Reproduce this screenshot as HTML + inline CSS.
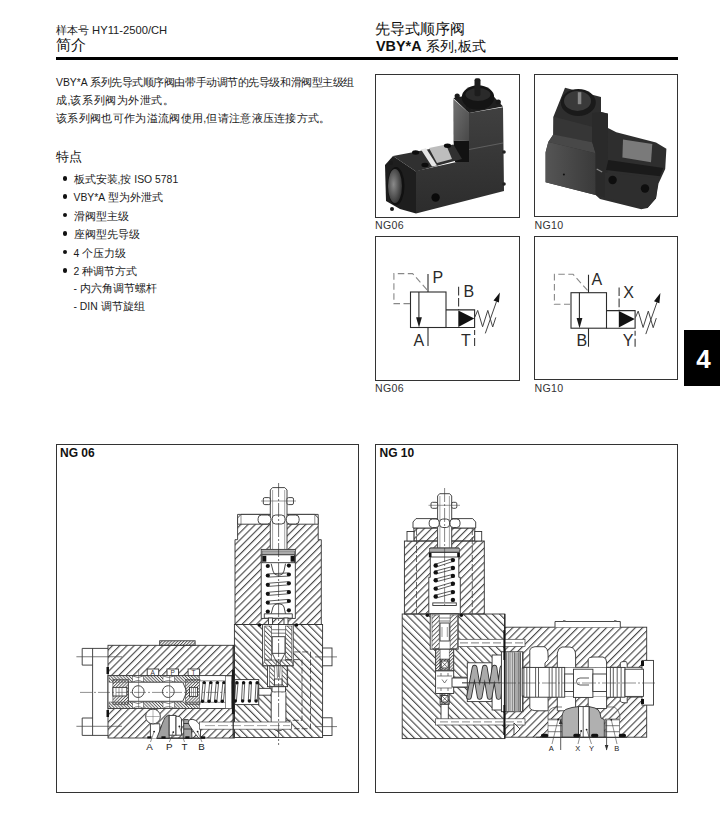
<!DOCTYPE html>
<html><head><meta charset="utf-8">
<style>
*{margin:0;padding:0;box-sizing:border-box}
html,body{width:720px;height:815px;background:#fff;overflow:hidden}
body{position:relative;font-family:"Liberation Sans",sans-serif;color:#222}
.a{position:absolute;white-space:nowrap;line-height:1}
.box{position:absolute;border:1px solid #333}
.cap{position:absolute;font-size:10.6px;letter-spacing:0.3px;line-height:1;color:#333;white-space:nowrap}
.ov{position:absolute;left:0;top:0}
.rule{position:absolute;left:56px;top:57px;width:622px;height:3px;background:#000}
.tab{position:absolute;left:684px;top:330px;width:36px;height:56px;background:#000;color:#fff;font-weight:bold;font-size:26px;line-height:59px;text-align:center;padding-left:3px}
ul{list-style:none}
.b{position:absolute;left:56px;font-size:10.4px;line-height:1;white-space:nowrap}
.dot{position:absolute;left:62.5px;width:4.5px;height:4.5px;border-radius:50%;background:#111}
.t{position:absolute;white-space:nowrap;line-height:1;font-size:11px;color:#1a1a1a;font-weight:500}
.t i{font-weight:normal}
.t i{font-style:normal;font-size:10.4px;letter-spacing:0}
</style></head><body>

<div class="a" style="left:56px;top:24.5px;font-size:11.2px;color:#222">样本号 HY11-2500/CH</div>
<div class="a" style="left:56px;top:38px;font-size:14.5px;color:#111;font-weight:500">简介</div>
<div class="a" style="left:375px;top:21.5px;font-size:14.5px;color:#111;font-weight:500">先导式顺序阀</div>
<div class="a" style="left:376px;top:38.5px;font-size:14.4px;color:#111;font-weight:500"><b>VBY*A</b> 系列,板式</div>
<div class="rule"></div>

<div class="t" style="left:56px;top:76.5px;letter-spacing:-0.45px"><i>VBY*A </i>系列先导式顺序阀由带手动调节的先导级和滑阀型主级组</div>
<div class="t" style="left:56px;top:94.7px;letter-spacing:0.56px">成<i>,</i>该系列阀为外泄式。</div>
<div class="t" style="left:56px;top:113px;letter-spacing:0.33px">该系列阀也可作为溢流阀使用<i>,</i>但请注意液压连接方式。</div>

<div class="a" style="left:56px;top:150.5px;font-size:12.5px;color:#111;font-weight:500">特点</div>

<div class="dot" style="top:176px"></div>
<div class="t" style="left:73.5px;top:173.5px">板式安装<i>,</i>按<i> ISO 5781</i></div>
<div class="dot" style="top:194px"></div>
<div class="t" style="left:73.5px;top:192px"><i>VBY*A </i>型为外泄式</div>
<div class="dot" style="top:212.5px"></div>
<div class="t" style="left:73.5px;top:210.5px">滑阀型主级</div>
<div class="dot" style="top:231px"></div>
<div class="t" style="left:73.5px;top:229px">座阀型先导级</div>
<div class="dot" style="top:249.5px"></div>
<div class="t" style="left:73.5px;top:247.5px"><i>4 </i>个压力级</div>
<div class="dot" style="top:268px"></div>
<div class="t" style="left:73.5px;top:266px"><i>2 </i>种调节方式</div>
<div class="t" style="left:73.5px;top:282.8px"><i>- </i>内六角调节螺杆</div>
<div class="t" style="left:73.5px;top:300.6px"><i>- DIN </i>调节旋组</div>

<!-- photo boxes -->
<div class="box" style="left:375px;top:74px;width:145px;height:144px"></div>
<div class="box" style="left:534px;top:74px;width:144px;height:143px"></div>
<div class="cap" style="left:375px;top:219.5px">NG06</div>
<div class="cap" style="left:534.5px;top:219.5px">NG10</div>

<!-- symbol boxes -->
<div class="box" style="left:375px;top:236px;width:145px;height:145px"></div>
<div class="box" style="left:534px;top:236px;width:144px;height:144px"></div>
<div class="cap" style="left:375px;top:382.7px">NG06</div>
<div class="cap" style="left:534.5px;top:382.7px">NG10</div>


<svg class="ov" width="720" height="815" viewBox="0 0 720 815">
<defs>
<g id="sym">
 <g fill="none" stroke="#2b2b2b" stroke-width="1.1">
  <rect x="410.5" y="292" width="35.5" height="35.5"/>
  <path d="M446 309.9H474.6V327.5H446"/>
  <path d="M418.9 292V318"/>
  <path d="M428 274V292M428 327.5V346"/>
 </g>
 <g fill="none" stroke="#3a3a3a" stroke-width="1.1">
  <path d="M458.6 286.7V309.9" stroke-dasharray="8.7 2.5"/>
  <path d="M474.6 327.5V346.3" stroke-dasharray="0 2.5 5 3 8 0"/>
 </g>
 <polygon points="416.1,317.2 421.9,317.2 419,327.5" fill="#1a1a1a"/>
 <polygon points="458.3,310.4 458.3,326.9 474.3,318.4" fill="#111"/>
 <g fill="none" stroke="#444" stroke-width="1">
  <polyline points="474.9,317 477.7,310.4 482.6,326.8 487.8,310.4 492.7,327 495.8,317.4"/>
  <path d="M485.3 333.4L496.5 301.5"/>
 </g>
 <polygon points="499.9,292.4 493.5,300.6 498.9,302.5" fill="#111"/>
 <path d="M410 303.6H393.9V273.6H412.6L427.8 290.6" fill="none" stroke="#888" stroke-width="1.1" stroke-dasharray="6.5 3.5"/>
</g>
</defs>

<defs>
 <linearGradient id="g1" x1="0" y1="0" x2="1" y2="1"><stop offset="0" stop-color="#727272"/><stop offset="1" stop-color="#484848"/></linearGradient>
 <linearGradient id="g2" x1="0" y1="0" x2="0" y2="1"><stop offset="0" stop-color="#404040"/><stop offset="1" stop-color="#2c2c2c"/></linearGradient>
 <radialGradient id="g3" cx="0.4" cy="0.45" r="0.6"><stop offset="0" stop-color="#8a8a8a"/><stop offset="1" stop-color="#333"/></radialGradient>
 <linearGradient id="g4" x1="0" y1="0" x2="1" y2="0"><stop offset="0" stop-color="#555"/><stop offset="1" stop-color="#3a3a3a"/></linearGradient>
</defs>
<!-- photo 1 -->
<g>
 <polygon points="416,171 461,161 469,160 469,113 503,107.2 504,191 416,213.5" fill="url(#g2)"/>
 <polygon points="453.3,99 469,113 469,141 453.5,140.5" fill="url(#g1)"/>
 <polygon points="453.5,140.5 469,141 469,162 455,162" fill="#121212"/>
 <polygon points="453.3,98 489,91.5 503,106.5 469,113" fill="#202020"/>
 <polygon points="393,156 453.5,144.5 462,159 416,171.5" fill="#303030"/>
 <polygon points="393,156 416,171.5 416,213.5 400,209 386,201 385,165" fill="#1e1e1e"/>
 <ellipse cx="396" cy="186" rx="8.5" ry="19" fill="#111"/>
 <ellipse cx="395" cy="186" rx="7" ry="17" fill="url(#g3)"/>
 <polygon points="421,149.5 426,148.3 437,165.5 432,166.5" fill="#e6e6e6"/>
 <polygon points="429,148 446,144.5 452,159 437,163" fill="#bdbdbd"/>
 <ellipse cx="415.6" cy="152.5" rx="3.6" ry="2.2" fill="#0c0c0c"/>
 <ellipse cx="425" cy="165" rx="3.6" ry="2.2" fill="#0c0c0c"/>
 <ellipse cx="447.5" cy="145.8" rx="3.6" ry="2.2" fill="#0c0c0c"/>
 <circle cx="435.6" cy="197.5" r="4.2" fill="#0a0a0a"/>
 <path d="M469 149.5L503 143" stroke="#6a6a6a" stroke-width="0.8"/>
 <circle cx="457.2" cy="96" r="2.6" fill="#1a1a1a"/>
 <circle cx="498.3" cy="102" r="2.6" fill="#1a1a1a"/>
 <circle cx="468.3" cy="108" r="2.6" fill="#1a1a1a"/>
 <ellipse cx="478" cy="97.5" rx="16.2" ry="12.2" fill="#141414"/>
 <ellipse cx="478" cy="94.5" rx="12.5" ry="6.5" fill="#2a2a2a"/>
 <rect x="474.5" y="78.3" width="6" height="18" rx="2" fill="#1c1c1c"/>
 <circle cx="504" cy="152" r="1.8" fill="#222"/>
 <circle cx="504" cy="184" r="1.8" fill="#222"/>
 <circle cx="391" cy="163" r="2" fill="#1a1a1a"/>
 <circle cx="392" cy="209" r="2" fill="#1a1a1a"/>
</g>
<!-- photo 2 -->
<g>
 <polygon points="565,87.8 601,97 601,112 608,113.5 608,128 616.3,132.2 656,142.6 666.4,148.7 665.2,168.9 658.5,183.6 656,198.2 647.5,208 641.3,209.2 600,199 595.6,195 545.6,182.2 545.6,152.2 548.3,142 553.3,134.5 553.3,117" fill="#2e2e2e"/>
 <polygon points="553.9,116.7 592.2,126.7 592.2,142.2 553.3,135" fill="#363636"/>
 <polygon points="548.3,142 553.3,134.5 592.2,142.2 595.6,153.3" fill="#484848"/>
 <polygon points="545.6,152.2 548.3,142 595.6,153.3 595.6,195 545.6,182.2" fill="url(#g4)"/>
 <polygon points="592.2,113 601,112 608,114 607.8,160 606.7,197.8 595.6,195 595.6,153.3 592.2,142" fill="#2a2a2a"/>
 <path d="M596.7 169L602.2 172" stroke="#8a8a8a" stroke-width="1.2"/>
 <polygon points="623,139.6 652.3,144 651,162.2 622.4,157.4" fill="#7a7a7a"/>
 <polygon points="608.3,160 663.3,168 660,176.2 606,170" fill="#1a1a1a"/>
 <polygon points="604.7,172.6 658.5,178 656,198.2 647.5,208 604.7,198" fill="#2e2e2e"/>
 <circle cx="612.6" cy="180" r="4.2" fill="#0e0e0e"/>
 <circle cx="645" cy="188.5" r="4.2" fill="#0e0e0e"/>
 <circle cx="563.9" cy="174.4" r="1" fill="#111"/>
 <ellipse cx="578.3" cy="102.5" rx="17.5" ry="13.5" fill="#1a1a1a"/>
 <ellipse cx="577.5" cy="101" rx="13.5" ry="10" fill="#3a3a3a"/>
 <rect x="577.8" y="92.2" width="3.5" height="12" fill="#888"/>
</g>
<defs>
<pattern id="hf" width="5.1" height="20" patternUnits="userSpaceOnUse" patternTransform="rotate(45)"><rect x="0" y="0" width="1.15" height="20" fill="#4a4a4a"/></pattern>
<pattern id="hb" width="5.1" height="20" patternUnits="userSpaceOnUse" patternTransform="rotate(-45)"><rect x="0" y="0" width="1.15" height="20" fill="#4a4a4a"/></pattern>
<pattern id="hd" width="2.2" height="20" patternUnits="userSpaceOnUse" patternTransform="rotate(45)"><rect x="0" y="0" width="0.9" height="20" fill="#555"/></pattern>
<pattern id="hm" width="3.2" height="20" patternUnits="userSpaceOnUse" patternTransform="rotate(-45)"><rect x="0" y="0" width="0.9" height="20" fill="#555"/></pattern>
<pattern id="hmf" width="3.2" height="20" patternUnits="userSpaceOnUse" patternTransform="rotate(45)"><rect x="0" y="0" width="0.9" height="20" fill="#555"/></pattern>
<pattern id="hdb" width="2.2" height="20" patternUnits="userSpaceOnUse" patternTransform="rotate(-45)"><rect x="0" y="0" width="0.9" height="20" fill="#555"/></pattern>
</defs>
<g id="ng06"><rect x="108" y="645.3" width="126.4" height="92.7" fill="url(#hf)" stroke="#333" stroke-width="0.9"/>
<rect x="159.7" y="640.8" width="35.4" height="4.5" fill="url(#hd)" stroke="#333" stroke-width="0.9"/>
<rect x="108" y="675.6" width="126.4" height="32.9" fill="#fff" stroke="#333" stroke-width="0.9"/>
<rect x="109" y="675.8" width="23.69999999999999" height="6.4" fill="url(#hdb)" stroke="#444" stroke-width="0.5"/>
<rect x="109" y="702" width="23.69999999999999" height="6.4" fill="url(#hdb)" stroke="#444" stroke-width="0.5"/>
<rect x="143.3" y="675.8" width="19.69999999999999" height="6.4" fill="url(#hdb)" stroke="#444" stroke-width="0.5"/>
<rect x="143.3" y="702" width="19.69999999999999" height="6.4" fill="url(#hdb)" stroke="#444" stroke-width="0.5"/>
<rect x="174.3" y="675.8" width="25.19999999999999" height="6.4" fill="url(#hdb)" stroke="#444" stroke-width="0.5"/>
<rect x="174.3" y="702" width="25.19999999999999" height="6.4" fill="url(#hdb)" stroke="#444" stroke-width="0.5"/>
<path d="M132.7 676Q138 679 143.3 676M132.7 682.2Q138 679 143.3 682.2M163 676Q168.5 679 174.3 676M163 682.2Q168.5 679 174.3 682.2" fill="none" stroke="#444" stroke-width="0.7"/>
<path d="M132.7 708.3Q138 705 143.3 708.3M132.7 702Q138 705 143.3 702M163 708.3Q168.5 705 174.3 708.3M163 702Q168.5 705 174.3 702" fill="none" stroke="#444" stroke-width="0.7"/>
<rect x="112.9" y="679.5" width="15.5" height="25.1" fill="url(#hd)" stroke="#444" stroke-width="0.6"/>
<rect x="112.9" y="687.4" width="13.9" height="8.6" fill="#fff" stroke="#333" stroke-width="0.9"/>
<path d="M116 687.4V696M119 687.4V696M122 687.4V696" stroke="#555" stroke-width="0.6"/>
<path d="M128.4 682.2H182.8L186.8 691.7L182.8 701.3H128.4Z" fill="#fff" stroke="#333" stroke-width="0.9"/>
<circle cx="138.2" cy="691.6" r="5.9" fill="#fff" stroke="#333" stroke-width="0.9"/>
<circle cx="168.3" cy="691.6" r="5.9" fill="#fff" stroke="#333" stroke-width="0.9"/>
<path d="M138.6 669V709M169.6 669V709" stroke="#555" stroke-width="0.6"/>
<rect x="185.5" y="679.5" width="14.5" height="25.1" fill="url(#hd)" stroke="#444" stroke-width="0.6"/>
<rect x="189.5" y="687.4" width="8" height="9" fill="#fff" stroke="#333" stroke-width="0.9"/>
<path d="M191.5 687.4V696.4M193.5 687.4V696.4M195.5 687.4V696.4" stroke="#555" stroke-width="0.6"/>
<rect x="199.5" y="680.9" width="32.5" height="21.3" fill="#fff" stroke="#444" stroke-width="0.6"/>
<path d="M203.0 682.6L201.3 701.3M205.4 682.6L203.7 701.3" stroke="#333" stroke-width="0.8"/>
<circle cx="204.2" cy="682.6" r="1.7" fill="#111"/><circle cx="202.5" cy="701.3" r="1.7" fill="#111"/>
<path d="M209.6 682.6L207.9 701.3M212.0 682.6L210.3 701.3" stroke="#333" stroke-width="0.8"/>
<circle cx="210.8" cy="682.6" r="1.7" fill="#111"/><circle cx="209.1" cy="701.3" r="1.7" fill="#111"/>
<path d="M216.2 682.6L214.5 701.3M218.6 682.6L216.9 701.3" stroke="#333" stroke-width="0.8"/>
<circle cx="217.4" cy="682.6" r="1.7" fill="#111"/><circle cx="215.7" cy="701.3" r="1.7" fill="#111"/>
<path d="M222.8 682.6L221.1 701.3M225.2 682.6L223.5 701.3" stroke="#333" stroke-width="0.8"/>
<circle cx="224.0" cy="682.6" r="1.7" fill="#111"/><circle cx="222.3" cy="701.3" r="1.7" fill="#111"/>
<path d="M229.4 682.6L227.7 701.3M231.8 682.6L230.1 701.3" stroke="#333" stroke-width="0.8"/>
<circle cx="230.6" cy="682.6" r="1.7" fill="#111"/><circle cx="228.9" cy="701.3" r="1.7" fill="#111"/>
<path d="M236.0 682.6L234.3 701.3M238.4 682.6L236.7 701.3" stroke="#333" stroke-width="0.8"/>
<circle cx="237.2" cy="682.6" r="1.7" fill="#111"/><circle cx="235.5" cy="701.3" r="1.7" fill="#111"/>
<rect x="147.2" y="669" width="11.5" height="6.6" fill="#fff" stroke="#333" stroke-width="0.9"/>
<text x="150.6" y="675" font-size="6.5" fill="#333">A</text>
<rect x="167" y="669" width="11.5" height="6.6" fill="#fff" stroke="#333" stroke-width="0.9"/>
<text x="170.4" y="675" font-size="6.5" fill="#333">P</text>
<rect x="188.1" y="669" width="11.5" height="6.6" fill="#fff" stroke="#333" stroke-width="0.9"/>
<text x="191.5" y="675" font-size="6.5" fill="#333">T</text>
<path d="M150.4 738.3V723.8H159.8V738.3" fill="#fff" stroke="#333" stroke-width="0.9"/>
<circle cx="153" cy="716.5" r="7.4" fill="#fff" stroke="#333" stroke-width="0.9"/>
<path d="M145.6 716.5H160.4M153 709.1V723.9" stroke="#666" stroke-width="0.5"/>
<path d="M156.7 738.3L160 730Q164 718 166 716.5L169.2 714.9V738.3Z" fill="#a0a0a0" stroke="#333" stroke-width="0.9"/>
<rect x="169.2" y="715.4" width="6.8" height="19.8" fill="#fff" stroke="#333" stroke-width="0.9"/>
<path d="M176 716.5Q180 715.5 181.5 719V735.2H176Z" fill="#fff" stroke="#333" stroke-width="0.9"/>
<path d="M183.7 738.3V719.6H188Q190 721 191 723L192 738.3Z" fill="#a5a5a5" stroke="#333" stroke-width="0.9"/>
<path d="M183.7 723.5H190.5M183.7 729H192" stroke="#222" stroke-width="0.8"/>
<path d="M190 719.6Q186.5 722 190.5 727L195 733.5L199 738.3H200.5V726Q196 718 190 719.6Z" fill="#fff" stroke="#333" stroke-width="0.9"/>
<path d="M156.7 738.3H205" stroke="#333" stroke-width="1"/>
<rect x="147.3" y="736.3" width="4.2" height="2.2" fill="#111"/>
<rect x="161.4" y="736.3" width="4.2" height="2.2" fill="#111"/>
<rect x="185.3" y="736.3" width="4.2" height="2.2" fill="#111"/>
<rect x="201" y="736.3" width="4.2" height="2.2" fill="#111"/>
<circle cx="154.1" cy="731.6" r="0.9" fill="#111"/>
<circle cx="173.3" cy="732.1" r="0.9" fill="#111"/>
<circle cx="179.4" cy="726.4" r="0.9" fill="#111"/>
<circle cx="197.6" cy="731.6" r="0.9" fill="#111"/>
<path d="M108 648.4H82.2V665.1H92.6M92.6 648.4V735.4M92.6 718H82.2V735.4H108" fill="none" stroke="#333" stroke-width="0.9"/>
<path d="M76.4 656.75H122M76.4 726.3H122" stroke="#444" stroke-width="0.7"/>
<rect x="106.5" y="667" width="2.5" height="7" fill="#111"/><rect x="106.5" y="710" width="2.5" height="7" fill="#111"/>
<path d="M80 692.4H233" stroke="#444" stroke-width="0.6" stroke-dasharray="12 2 2 2"/>
<rect x="234.4" y="624.5" width="88.2" height="113" fill="url(#hb)" stroke="#333" stroke-width="0.9"/>
<path d="M235 624.5V539.7H237.6V514.4H318.2V539.7H321.3V624.5Z" fill="url(#hf)" stroke="#333" stroke-width="0.9"/>
<path d="M237.6 524.2V518L241 514.4H314.8L318.2 518V524.2Z" fill="#fff" stroke="#333" stroke-width="0.9"/>
<path d="M241 514.4V524.2M314.8 514.4V524.2" fill="none" stroke="#444" stroke-width="0.6"/>
<path d="M270.3 549.4V490L272.5 487.6H284.8L287 490V549.4" fill="#fff" stroke="#333" stroke-width="0.9"/>
<rect x="263.3" y="497.6" width="7" height="7" rx="1.5" fill="#fff" stroke="#333" stroke-width="0.9"/><rect x="287" y="497.6" width="6.5" height="7" rx="1.5" fill="#fff" stroke="#333" stroke-width="0.9"/>
<path d="M261 501H296" stroke="#555" stroke-width="0.6"/>
<path d="M272.6 490V549M284.7 490V549" stroke="#666" stroke-width="0.6"/>
<rect x="258.1" y="515" width="12.8" height="9" rx="3.5" fill="#fff" stroke="#333" stroke-width="0.9"/>
<rect x="272.20000000000005" y="515" width="12.8" height="9" rx="3.5" fill="#fff" stroke="#333" stroke-width="0.9"/>
<rect x="286.3" y="515" width="12.8" height="9" rx="3.5" fill="#fff" stroke="#333" stroke-width="0.9"/>
<rect x="261.2" y="549.4" width="34.1" height="69" fill="#fff" stroke="#333" stroke-width="0.9"/>
<rect x="262" y="550.9" width="32.5" height="3.9" fill="#aaa" stroke="#444" stroke-width="0.6"/>
<rect x="262" y="554.8" width="32.5" height="7.9" fill="#fff" stroke="#333" stroke-width="0.9"/>
<rect x="262.4" y="555.8" width="3.9" height="5.9" fill="#111"/><rect x="290.6" y="555.8" width="3.9" height="5.9" fill="#111"/>
<path d="M268.5 573.9L288.2 572.9L288.2 576.1L268.5 577.1Z" fill="#fff" stroke="#333" stroke-width="0.8"/>
<path d="M268.5 583.1999999999999L288.2 581.6999999999999L288.2 584.9L268.5 586.4Z" fill="#fff" stroke="#333" stroke-width="0.8"/>
<path d="M268.5 592.1999999999999L288.2 590.6L288.2 593.8000000000001L268.5 595.4Z" fill="#fff" stroke="#333" stroke-width="0.8"/>
<path d="M268.5 601.0L288.2 599.4L288.2 602.6L268.5 604.2Z" fill="#fff" stroke="#333" stroke-width="0.8"/>
<circle cx="267.8" cy="566" r="2.1" fill="#111"/><circle cx="288.9" cy="565.6" r="2.1" fill="#111"/>
<circle cx="267.8" cy="575.5" r="2.1" fill="#111"/><circle cx="288.9" cy="574.5" r="2.1" fill="#111"/>
<circle cx="267.8" cy="584.8" r="2.1" fill="#111"/><circle cx="288.9" cy="583.3" r="2.1" fill="#111"/>
<circle cx="267.8" cy="593.8" r="2.1" fill="#111"/><circle cx="288.9" cy="592.2" r="2.1" fill="#111"/>
<circle cx="267.8" cy="602.6" r="2.1" fill="#111"/><circle cx="288.9" cy="601" r="2.1" fill="#111"/>
<circle cx="267.8" cy="611.6" r="2.1" fill="#111"/><circle cx="288.9" cy="610.3" r="2.1" fill="#111"/>
<path d="M271.2 563.7L273 571Q274 575 277 575H280Q283 575 284 571L285.5 563.7" fill="none" stroke="#333" stroke-width="0.9"/>
<path d="M271.2 613.8L273 607Q274 604 277 604H280Q283 604 284 607L285.5 613.8" fill="none" stroke="#333" stroke-width="0.9"/>
<path d="M264.3 613.8H292.3V618.2H264.3Z" fill="#fff" stroke="#333" stroke-width="0.9"/>
<rect x="268.5" y="618" width="4" height="6.5" fill="#fff" stroke="#333" stroke-width="0.9"/><rect x="284" y="618" width="4" height="6.5" fill="#fff" stroke="#333" stroke-width="0.9"/>
<rect x="262.6" y="624.5" width="30.6" height="41.3" fill="#fff" stroke="#333" stroke-width="0.9"/>
<rect x="264.7" y="626" width="7" height="34" fill="url(#hm)" stroke="#444" stroke-width="0.6"/>
<rect x="285.6" y="626" width="6.2" height="34" fill="url(#hm)" stroke="#444" stroke-width="0.6"/>
<path d="M264.7 660H291.8L293.2 665.8H262.6Z" fill="url(#hm)" stroke="#444" stroke-width="0.6"/>
<path d="M271.7 629.7H285.6M271.7 633.2H285.6" stroke="#444" stroke-width="0.7"/>
<rect x="272.2" y="636.7" width="12.8" height="16.6" fill="#fff" stroke="#333" stroke-width="0.9"/>
<path d="M272.2 653.3L276.5 662H280.5L285 653.3" fill="none" stroke="#333" stroke-width="0.9"/>
<rect x="267.5" y="665.8" width="20.1" height="20.9" fill="#fff" stroke="#333" stroke-width="0.9"/>
<rect x="269.6" y="666" width="4.8" height="20.5" fill="url(#hm)" stroke="#444" stroke-width="0.6"/>
<rect x="282" y="666" width="5" height="20.5" fill="url(#hm)" stroke="#444" stroke-width="0.6"/>
<path d="M276.5 662L277.5 678M280.5 662L279.5 678" stroke="#444" stroke-width="0.6"/>
<rect x="274.4" y="679" width="7.6" height="6" fill="#fff" stroke="#333" stroke-width="0.9"/>
<rect x="272" y="686.7" width="13.5" height="5.3" fill="#fff" stroke="#333" stroke-width="0.9"/>
<rect x="234.8" y="679.6" width="23.95" height="25" fill="#fff" stroke="#333" stroke-width="0.9"/>
<path d="M235.8 682.7L234.2 701M238.0 682.7L236.4 701" stroke="#333" stroke-width="0.8"/>
<circle cx="236.9" cy="682.7" r="1.7" fill="#111"/><circle cx="235.3" cy="701" r="1.7" fill="#111"/>
<path d="M242.5 682.7L241.5 701M244.7 682.7L243.7 701" stroke="#333" stroke-width="0.8"/>
<circle cx="243.6" cy="682.7" r="1.7" fill="#111"/><circle cx="242.6" cy="701" r="1.7" fill="#111"/>
<path d="M249.3 682.7L248.3 701M251.5 682.7L250.5 701" stroke="#333" stroke-width="0.8"/>
<circle cx="250.4" cy="682.7" r="1.7" fill="#111"/><circle cx="249.4" cy="701" r="1.7" fill="#111"/>
<path d="M256.1 682.7L255.0 701M258.3 682.7L257.2 701" stroke="#333" stroke-width="0.8"/>
<circle cx="257.2" cy="682.7" r="1.7" fill="#111"/><circle cx="256.1" cy="701" r="1.7" fill="#111"/>
<path d="M258.75 688.4H270Q271.8 688.4 271.8 691.8Q271.8 695.2 270 695.2H258.75Z" fill="#fff" stroke="#333" stroke-width="0.9"/>
<path d="M271.2 692.4V722Q271.2 730 278.5 731Q285.9 730 285.9 722V692.4" fill="#fff" stroke="#333" stroke-width="0.9"/>
<circle cx="259.5" cy="625" r="1.8" fill="#111"/><circle cx="296.5" cy="625" r="1.8" fill="#111"/>
<path d="M294.2 651.9H310.5V728.7H294.2M286 659.6H302V720.3H286" fill="none" stroke="#333" stroke-width="0.8" stroke-dasharray="6 2"/>
<rect x="199.5" y="722" width="92" height="7.2" fill="#fff" stroke="#444" stroke-width="0.7"/>
<path d="M205 725.6H290" stroke="#666" stroke-width="0.6" stroke-dasharray="10 3"/>
<rect x="225.4" y="676" width="6.3" height="32.5" fill="#fff" stroke="#444" stroke-width="0.6"/>
<path d="M233.2 670V714" stroke="#1a1a1a" stroke-width="2.6"/>
<path d="M233.2 714V738M233.2 645V670" stroke="#222" stroke-width="1.2"/>
<rect x="322.6" y="648" width="9.4" height="17.8" fill="#fff" stroke="#333" stroke-width="0.9"/><rect x="322.6" y="717.8" width="9.4" height="17.7" fill="#fff" stroke="#333" stroke-width="0.9"/>
<path d="M315 656.9H337M315 726.6H337" stroke="#444" stroke-width="0.7"/>
<path d="M278.6 483V745" stroke="#333" stroke-width="0.7" stroke-dasharray="14 2 2 2"/>
<g font-size="9.8" fill="#222" font-family="Liberation Sans"><text x="146.3" y="749.8">A</text><text x="166" y="749.8">P</text><text x="181.4" y="749.8">T</text><text x="198.3" y="749.8">B</text></g>
<path d="M150.5 742L154.1 731.6M169.4 742L173.3 732.1M184.5 742L179.4 726.4M202 742L197.6 731.6" stroke="#444" stroke-width="0.6"/></g>
<g id="ng10"><rect x="402.2" y="614" width="102.6" height="124.6" fill="url(#hb)" stroke="#333" stroke-width="0.9"/>
<rect x="504.6" y="627.2" width="142.1" height="110" fill="url(#hf)" stroke="#333" stroke-width="0.9"/>
<path d="M555 627.2V621.5H620.3V627.2" fill="#fff" stroke="#333" stroke-width="0.9"/>
<rect x="563" y="620.2" width="2.5" height="1.5" fill="#666"/><rect x="614" y="620.2" width="2.5" height="1.5" fill="#666"/>
<rect x="404.4" y="541" width="79.9" height="73" fill="url(#hf)" stroke="#333" stroke-width="0.9"/>
<path d="M413.9 541V528H474.8V541Z" fill="url(#hf)" stroke="#333" stroke-width="0.9"/>
<path d="M413 528V522L416 518.6H472.7L475.7 522V528Z" fill="#fff" stroke="#333" stroke-width="0.9"/>
<rect x="407" y="531.5" width="6.9" height="9.5" fill="#fff" stroke="#333" stroke-width="0.9"/><rect x="474.8" y="531.5" width="6.9" height="9.5" fill="#fff" stroke="#333" stroke-width="0.9"/>
<path d="M416.5 528V614M472.3 528V614" stroke="#444" stroke-width="0.8" stroke-dasharray="7 2"/>
<path d="M437.6 548.7V496L439.6 493.7H449.7L451.7 496V548.7" fill="#fff" stroke="#333" stroke-width="0.9"/>
<rect x="431" y="502.3" width="6.6" height="6" rx="1.5" fill="#fff" stroke="#333" stroke-width="0.9"/><rect x="451.7" y="502.3" width="5.1" height="6" rx="1.5" fill="#fff" stroke="#333" stroke-width="0.9"/>
<path d="M428.5 505.3H460" stroke="#555" stroke-width="0.6"/>
<path d="M439.9 496V548M449.4 496V548" stroke="#666" stroke-width="0.6"/>
<rect x="429.2" y="519" width="10" height="8.5" rx="3.2" fill="#fff" stroke="#333" stroke-width="0.9"/>
<rect x="439.6" y="519" width="10" height="8.5" rx="3.2" fill="#fff" stroke="#333" stroke-width="0.9"/>
<rect x="450" y="519" width="10" height="8.5" rx="3.2" fill="#fff" stroke="#333" stroke-width="0.9"/>
<path d="M430.3 547.8H458.8V577.3H460.3V613.7H428.8V577.3H430.3Z" fill="#fff" stroke="#333" stroke-width="0.9"/>
<rect x="429.3" y="548.5" width="30" height="3.5" fill="#aaa" stroke="#444" stroke-width="0.6"/>
<rect x="429.3" y="552.5" width="30" height="4.5" fill="#fff" stroke="#333" stroke-width="0.9"/>
<rect x="429" y="553" width="2.5" height="4" fill="#111"/><rect x="457.2" y="553" width="2.5" height="4" fill="#111"/>
<path d="M436 564.0L452.6 558.6L452.6 561.6L436 567.0Z" fill="#fff" stroke="#333" stroke-width="0.8"/>
<path d="M436 570.9L452.6 566.5L452.6 569.5L436 573.9Z" fill="#fff" stroke="#333" stroke-width="0.8"/>
<path d="M436 578.8L452.6 574.4L452.6 577.4L436 581.8Z" fill="#fff" stroke="#333" stroke-width="0.8"/>
<path d="M436 587.1L452.6 582.2L452.6 585.2L436 590.1Z" fill="#fff" stroke="#333" stroke-width="0.8"/>
<path d="M436 595.0L452.6 590.6L452.6 593.6L436 598.0Z" fill="#fff" stroke="#333" stroke-width="0.8"/>
<circle cx="435.7" cy="565.5" r="2.2" fill="#111"/>
<circle cx="435.7" cy="572.4" r="2.2" fill="#111"/>
<circle cx="435.7" cy="580.3" r="2.2" fill="#111"/>
<circle cx="435.7" cy="588.6" r="2.2" fill="#111"/>
<circle cx="435.7" cy="596.5" r="2.2" fill="#111"/>
<circle cx="452.9" cy="560.1" r="2.2" fill="#111"/>
<circle cx="452.9" cy="568" r="2.2" fill="#111"/>
<circle cx="452.9" cy="575.9" r="2.2" fill="#111"/>
<circle cx="452.9" cy="583.7" r="2.2" fill="#111"/>
<circle cx="452.9" cy="592.1" r="2.2" fill="#111"/>
<circle cx="452.9" cy="599.9" r="2.2" fill="#111"/>
<rect x="432.8" y="602.9" width="23.5" height="2.6" fill="#fff" stroke="#333" stroke-width="0.9"/>
<circle cx="427.4" cy="615.2" r="1.8" fill="#111"/><circle cx="461.3" cy="615.2" r="1.8" fill="#111"/>
<rect x="430.2" y="614" width="28" height="35.2" fill="#fff" stroke="#333" stroke-width="0.9"/>
<rect x="432" y="615" width="7.2" height="33.5" fill="url(#hmf)" stroke="#444" stroke-width="0.6"/>
<rect x="450.1" y="615" width="7.2" height="33.5" fill="url(#hmf)" stroke="#444" stroke-width="0.6"/>
<path d="M439.2 618H450.1M439.2 621H450.1" stroke="#444" stroke-width="0.7"/>
<rect x="440" y="623" width="9.3" height="18" fill="#fff" stroke="#333" stroke-width="0.9"/>
<path d="M442 627V637M447.3 627V637" stroke="#555" stroke-width="0.6"/>
<rect x="435.6" y="649.2" width="18.1" height="21.7" fill="#fff" stroke="#333" stroke-width="0.9"/>
<rect x="435.8" y="649.5" width="4.3" height="21" fill="url(#hd)" stroke="#444" stroke-width="0.5"/>
<rect x="449.2" y="649.5" width="4.3" height="21" fill="url(#hd)" stroke="#444" stroke-width="0.5"/>
<rect x="440.1" y="659.2" width="9.1" height="10.8" fill="url(#hd)" stroke="#333" stroke-width="0.9"/>
<rect x="441.2" y="661" width="7" height="7" fill="#fff" stroke="#333" stroke-width="0.9"/>
<path d="M441.2 661L448.2 668M448.2 661L441.2 668" stroke="#333" stroke-width="0.7"/>
<rect x="435.6" y="670.9" width="18.1" height="22.6" fill="#fff" stroke="#333" stroke-width="0.9"/>
<rect x="453.7" y="677.2" width="13.5" height="10" fill="#fff" stroke="#333" stroke-width="0.9"/>
<path d="M437 676H452M437 688H452M441 673V676M448 673V676M441 688V691M448 688V691" stroke="#444" stroke-width="0.7"/>
<path d="M442 679.5L444.6 683L447 679.5" fill="none" stroke="#444" stroke-width="0.7"/>
<rect x="440.1" y="693.5" width="9.1" height="10.8" fill="url(#hd)" stroke="#333" stroke-width="0.9"/>
<rect x="441.5" y="695.5" width="6.5" height="6.5" fill="#fff" stroke="#333" stroke-width="0.9"/>
<path d="M441.5 695.5L448 702M448 695.5L441.5 702" stroke="#333" stroke-width="0.7"/>
<rect x="441" y="704.3" width="7.3" height="16.3" fill="#fff" stroke="#333" stroke-width="0.9"/>
<rect x="458.2" y="639.3" width="66.8" height="7.2" fill="#fff" stroke="#444" stroke-width="0.7"/>
<path d="M460 642.9H523" stroke="#444" stroke-width="0.7" stroke-dasharray="8 3"/>
<rect x="435.6" y="718.8" width="89.4" height="6.2" fill="#fff" stroke="#444" stroke-width="0.7"/>
<path d="M440 721.9H522" stroke="#555" stroke-width="0.7" stroke-dasharray="8 3"/>
<rect x="452" y="678" width="16" height="9" fill="#fff" stroke="#333" stroke-width="0.9"/>
<rect x="467.3" y="662.8" width="24.8" height="38.8" fill="#fff" stroke="#333" stroke-width="0.9"/>
<rect x="492.1" y="655" width="9.7" height="55" fill="#fff" stroke="#333" stroke-width="0.9"/>
<polyline points="469,697 474.6,667.6 479.7,697 484.8,667.6 489.6,697 494.5,667.6 498.6,697 502.3,668" fill="none" stroke="#333" stroke-width="5.6" stroke-linejoin="round" stroke-linecap="round"/>
<polyline points="469,697 474.6,667.6 479.7,697 484.8,667.6 489.6,697 494.5,667.6 498.6,697 502.3,668" fill="none" stroke="#aaa" stroke-width="3.8" stroke-linejoin="round" stroke-linecap="round"/>
<path d="M462 682.7H505" stroke="#333" stroke-width="0.7"/>
<rect x="501.4" y="651.8" width="21.6" height="59.9" fill="#fff" stroke="#333" stroke-width="0.9"/>
<rect x="514.2" y="652.3" width="4.9" height="59" fill="#aaa"/>
<path d="M506.3 652.3V711.2M508.2 652.3V711.2M510 652.3V711.2M512.2 652.3V711.2M514.2 652.3V711.2M519.1 652.3V711.2M520.5 652.3V711.2M522.5 652.3V711.2" stroke="#333" stroke-width="0.8"/>
<path d="M504.6 651.8V711.7" stroke="#111" stroke-width="1.4"/>
<rect x="522.2" y="668" width="3" height="28" fill="#fff" stroke="#333" stroke-width="0.9"/>
<rect x="525" y="667.3" width="121.7" height="29.8" fill="#fff" stroke="#333" stroke-width="0.9"/>
<path d="M529.8 667.3V650Q531 646.7 535 646.7H544Q548.1 648 548.1 655V660L545 663V667.3M529.8 697.1V708Q531 710.8 538 710.8H548.1V697.1" fill="#fff" stroke="#333" stroke-width="0.9"/>
<path d="M557.3 667.3V653Q558 648 562 647H570Q575.6 648 575.6 655V667.3M557.3 697.1V710.8H575.6V697.1" fill="#fff" stroke="#333" stroke-width="0.9"/>
<path d="M588.2 667.3V659Q589 657 593 657H603Q606.6 658 606.6 662V667.3M588.2 697.1V708.5H606.6V697.1" fill="#fff" stroke="#333" stroke-width="0.9"/>
<path d="M620.3 667.3V663Q621 661.6 623 661.6H626Q627.2 662 627.2 664V667.3M620.3 697.1V701Q621 702.8 624 702.8H627.2V697.1" fill="#fff" stroke="#333" stroke-width="0.9"/>
<rect x="642" y="660.4" width="11.5" height="44.7" fill="#fff" stroke="#333" stroke-width="0.9"/>
<rect x="641" y="661" width="3" height="5" fill="#111"/><rect x="641" y="699" width="3" height="5" fill="#111"/>
<rect x="523.9" y="667.4" width="40.8" height="29.8" fill="#fff" stroke="#333" stroke-width="0.9"/>
<path d="M526.8 667.6V697M529.7 667.6V697M535.6 667.6V697M538.5 667.6V697M549.2 667.6V697M552.1 667.6V697M556 667.6V697M558.9 667.6V697M561.8 667.6V697" stroke="#333" stroke-width="0.8"/>
<rect x="564.7" y="674" width="8.8" height="17.5" fill="#fff" stroke="#333" stroke-width="0.9"/>
<rect x="573.5" y="669.2" width="19.4" height="28.2" fill="#fff" stroke="#333" stroke-width="0.9"/>
<path d="M589 678H580Q576.5 678 576.5 681.5Q576.5 685 580 685H589" fill="none" stroke="#333" stroke-width="0.8"/>
<rect x="592.9" y="674" width="13.6" height="17.5" fill="#fff" stroke="#333" stroke-width="0.9"/>
<rect x="606.5" y="667.4" width="18.5" height="29.8" fill="#fff" stroke="#333" stroke-width="0.9"/>
<path d="M610.4 667.6V697M613.3 667.6V697M617.2 667.6V697M621.1 667.6V697" stroke="#333" stroke-width="0.8"/>
<rect x="625" y="669.2" width="18.5" height="27.2" fill="#fff" stroke="#333" stroke-width="0.9"/>
<path d="M462 683H655" stroke="#444" stroke-width="0.6" stroke-dasharray="14 2 2 2"/>
<rect x="548" y="719" width="14" height="18.2" fill="#fff" stroke="#444" stroke-width="0.6"/>
<path d="M548 719.8H562M548 725.7H562M548 731.7H562" stroke="#444" stroke-width="0.7"/>
<rect x="605.5" y="719" width="14" height="18.2" fill="#fff" stroke="#444" stroke-width="0.6"/>
<path d="M605.5 719.8H619.4M605.5 725.7H619.4M605.5 731.7H619.4" stroke="#444" stroke-width="0.7"/>
<path d="M562 737.2V716Q563 710 567 709L572 707.5L578.5 706.6V737.2ZM589 706.6L595 708Q599 709.5 600 713L601 718L604.3 719.5V737.2H589Z" fill="#b0b0b0" stroke="#333" stroke-width="0.9"/>
<rect x="578.5" y="706.6" width="10.5" height="30.6" fill="#fff" stroke="#333" stroke-width="0.9"/>
<path d="M583.2 706.6V737.2" stroke="#333" stroke-width="0.8"/>
<path d="M548 719V715Q548 708 556 707H562M606 707H614Q620 710 620 719" fill="none" stroke="#444" stroke-width="0.7"/>
<rect x="541" y="733.8" width="7.2" height="3.6" rx="1.6" fill="#111"/>
<rect x="573.3" y="733.8" width="7.2" height="3.6" rx="1.6" fill="#111"/>
<rect x="591.1" y="733.8" width="7.2" height="3.6" rx="1.6" fill="#111"/>
<rect x="618.8" y="733.8" width="7.2" height="3.6" rx="1.6" fill="#111"/>
<path d="M536 737.3H627" stroke="#333" stroke-width="0.9"/>
<circle cx="558.1" cy="719.5" r="0.9" fill="#111"/><circle cx="611.3" cy="719.8" r="0.9" fill="#111"/><circle cx="581.2" cy="731" r="0.9" fill="#111"/><circle cx="586.6" cy="729.6" r="0.9" fill="#111"/>
<path d="M504.8 614V738.6" stroke="#222" stroke-width="1.2"/>
<path d="M504.3 630V660M504.3 705V735" stroke="#111" stroke-width="1.8"/>
<path d="M560.7 720V750M606.6 720V750" stroke="#333" stroke-width="0.8"/>
<path d="M558.9 724L560.7 719L562.5 724ZM604.8 745L606.6 750.5L608.4 745Z" fill="#333"/>
<g font-size="7.5" fill="#222" font-family="Liberation Sans"><text x="548.8" y="750.8">A</text><text x="575.2" y="750.8">X</text><text x="589" y="750.8">Y</text><text x="614.2" y="750.8">B</text></g>
<path d="M552 744L558.1 719.5M578 744L581.2 731M591.5 744L586.6 729.6M617 744L611.3 719.8" stroke="#444" stroke-width="0.6"/>
<path d="M514 723L520 729L514 735ZM514 723" fill="#fff" stroke="#333" stroke-width="0.9"/>
<path d="M444.6 488V608" stroke="#333" stroke-width="0.6" stroke-dasharray="14 2 2 2"/></g>

<use href="#sym"/>
<use href="#sym" transform="translate(160.5 0.7)"/>
<g font-family="Liberation Sans" font-size="16" fill="#2a2a2a">
 <text x="432.6" y="282.5">P</text>
 <text x="463.6" y="296.8">B</text>
 <text x="413.6" y="345.6">A</text>
 <text x="461" y="345.6">T</text>
 <text x="591.4" y="284.8">A</text>
 <text x="623.2" y="297.5">X</text>
 <text x="576.6" y="346.2">B</text>
 <text x="622.8" y="346.2">Y</text>
</g>
</svg>

<div class="tab">4</div>

<!-- section drawings -->
<div class="box" style="left:56px;top:444px;width:303px;height:349px"></div>
<div class="box" style="left:375px;top:444px;width:303px;height:349px"></div>
<div class="a" style="left:60px;top:447px;font-size:12px;font-weight:bold;color:#111">NG 06</div>
<div class="a" style="left:379.5px;top:447px;font-size:12px;font-weight:bold;color:#111">NG 10</div>

</body></html>
